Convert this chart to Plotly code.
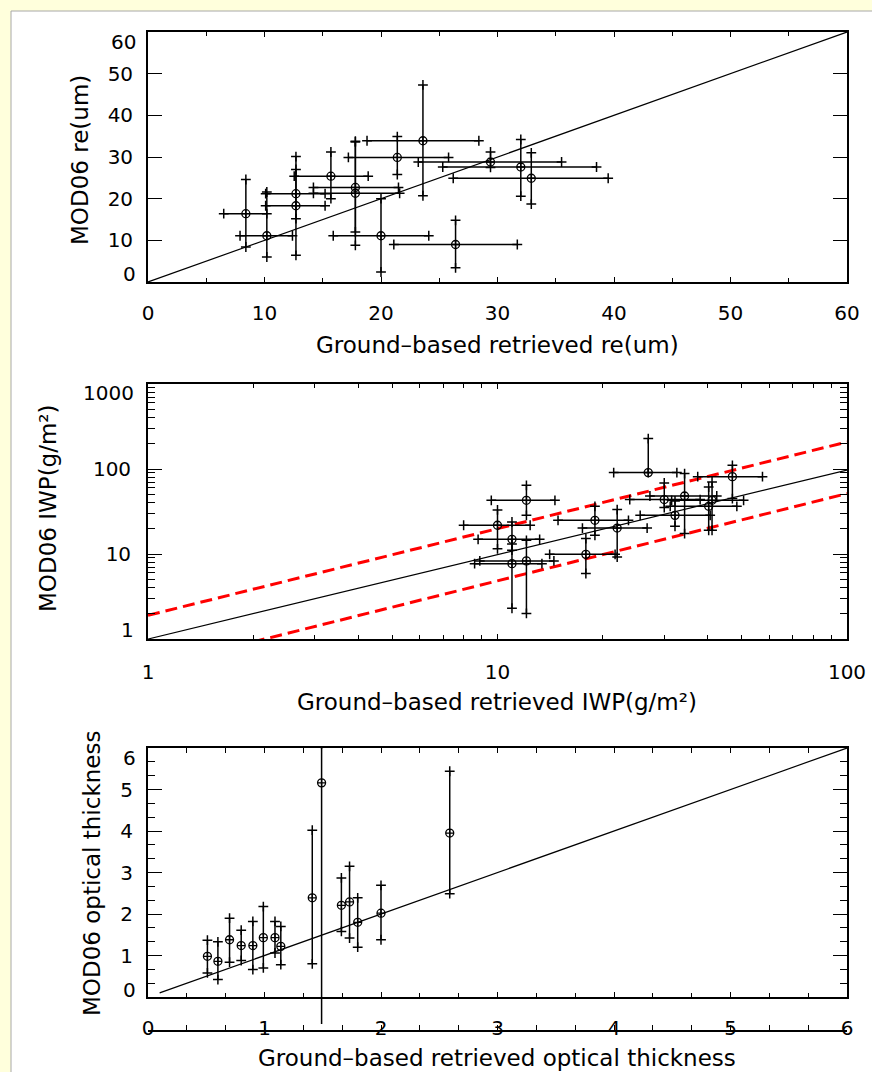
import plotly.graph_objects as go

W, H = 872, 1072
FONT = "DejaVu Sans"

# ---------------- effective radius (um) ----------------
re_gb = [8.4, 10.2, 12.7, 12.7, 15.7, 17.8, 17.8, 23.6, 21.4, 20.0, 26.4, 29.4, 32.0, 32.9]
re_gb_lo = [6.5, 7.9, 10.1, 10.1, 12.55, 14.2, 14.2, 18.8, 17.2, 15.9, 21.1, 23.2, 25.3, 26.2]
re_gb_hi = [10.2, 12.4, 15.2, 15.2, 18.9, 21.5, 21.6, 28.4, 25.8, 24.1, 31.7, 35.5, 38.5, 39.5]
re_mod = [16.4, 11.1, 21.2, 18.3, 25.4, 22.7, 21.3, 33.9, 29.9, 11.1, 9.0, 28.8, 27.6, 24.9]
re_mod_lo = [8.4, 6.0, 15.2, 6.4, 20.0, 12.0, 8.8, 20.7, 25.8, 2.4, 3.4, 27.5, 20.6, 18.7]
re_mod_hi = [24.6, 21.6, 27.0, 30.1, 31.2, 33.6, 33.8, 47.3, 34.9, 20.0, 14.8, 31.2, 34.2, 31.0]
re_line = [0, 60]

# ---------------- ice water path (g/m^2) ----------------
iwp_gb = [10.0, 11.0, 11.0, 12.1, 12.1, 17.9, 19.0, 22.0, 27.0, 30.0, 34.3, 32.2, 40.2, 41.1, 47.0]
iwp_gb_lo = [8.0, 8.8, 8.6, 9.6, 8.9, 14.1, 14.9, 17.5, 21.5, 23.9, 27.3, 25.6, 31.2, 31.5, 37.4]
iwp_gb_hi = [12.4, 13.2, 13.4, 14.6, 14.5, 21.7, 23.7, 26.8, 32.6, 38.0, 42.4, 40.6, 48.4, 50.6, 57.3]
iwp_mod = [21.8, 14.9, 7.7, 42.8, 8.3, 9.9, 24.9, 20.2, 90.7, 43.7, 48.1, 28.5, 36.4, 42.8, 81.3]
iwp_mod_lo = [11.5, 11.1, 2.3, 28.5, 2.0, 5.9, 16.6, 9.2, 90.7, 35.2, 17.4, 21.2, 19.0, 19.0, 44.9]
iwp_mod_hi = [33.0, 23.8, 13.1, 64.3, 14.5, 15.2, 36.4, 33.3, 228.0, 68.4, 88.3, 42.0, 61.4, 70.3, 110.6]
iwp_line_x = [1, 100]
iwp_line_y = [1, 97]
iwp_upper_y = [1.9, 208]
iwp_lower_y = [0.454, 51.4]

# ---------------- optical thickness ----------------
tau_gb = [0.51, 0.60, 0.70, 0.80, 0.90, 0.99, 1.09, 1.14, 1.41, 1.49, 1.66, 1.73, 1.80, 2.00, 2.59]
tau_mod = [0.98, 0.86, 1.38, 1.24, 1.24, 1.43, 1.43, 1.22, 2.39, 5.16, 2.21, 2.29, 1.80, 2.02, 3.95]
tau_mod_lo = [0.58, 0.42, 0.84, 0.88, 0.66, 0.70, 1.06, 0.78, 0.80, -0.65, 1.58, 1.42, 1.20, 1.38, 2.49]
tau_mod_hi = [1.37, 1.33, 1.90, 1.61, 1.82, 2.18, 1.82, 1.70, 4.02, 6.10, 2.87, 3.15, 2.39, 2.69, 5.44]
tau_line = [0.1, 6]

# tick labels
re_ticks = [0, 10, 20, 30, 40, 50, 60]
iwp_x_ticks = [1, 10, 100]
iwp_y_ticks = [1, 10, 100, 1000]
tau_ticks = [0, 1, 2, 3, 4, 5, 6]


def xdom(left, right):
    return [left / W, right / W]


def ydom(top, bottom):
    return [1 - bottom / H, 1 - top / H]


def plus(v, hi):
    return [h - a for a, h in zip(v, hi)]


def minus(v, lo):
    return [a - l for a, l in zip(v, lo)]


def end_caps(x, y, ylo, yhi, xlo=None, xhi=None):
    cx, cy = [], []
    for i in range(len(x)):
        if xlo is not None:
            cx += [xlo[i], xhi[i]]
            cy += [y[i], y[i]]
        cx += [x[i], x[i]]
        cy += [ylo[i], yhi[i]]
    return cx, cy


CIRCLE = dict(symbol="circle-cross-open", size=8, color="black",
              line=dict(width=1.3, color="black"))
CAP = dict(symbol="cross-thin", size=7, color="black",
           line=dict(width=1.5, color="black"))


def err(arr_p, arr_m):
    return dict(type="data", symmetric=False, array=arr_p, arrayminus=arr_m,
                width=0, thickness=1.5, color="black")


fig = go.Figure()

# --- panel 1 ---
fig.add_trace(go.Scatter(x=re_line, y=re_line, mode="lines", xaxis="x", yaxis="y",
                         line=dict(color="black", width=1.2), showlegend=False))
fig.add_trace(go.Scatter(x=re_gb, y=re_mod, mode="markers", xaxis="x", yaxis="y",
                         marker=CIRCLE, showlegend=False,
                         error_x=err(plus(re_gb, re_gb_hi), minus(re_gb, re_gb_lo)),
                         error_y=err(plus(re_mod, re_mod_hi), minus(re_mod, re_mod_lo))))
cx, cy = end_caps(re_gb, re_mod, re_mod_lo, re_mod_hi, re_gb_lo, re_gb_hi)
fig.add_trace(go.Scatter(x=cx, y=cy, mode="markers", xaxis="x", yaxis="y",
                         marker=CAP, showlegend=False))

# --- panel 2 ---
fig.add_trace(go.Scatter(x=iwp_line_x, y=iwp_line_y, mode="lines", xaxis="x2", yaxis="y2",
                         line=dict(color="black", width=1.2), showlegend=False))
for yy in (iwp_upper_y, iwp_lower_y):
    fig.add_trace(go.Scatter(x=iwp_line_x, y=yy, mode="lines", xaxis="x2", yaxis="y2",
                             line=dict(color="#FF0000", width=3, dash="12px,6px"),
                             showlegend=False))
fig.add_trace(go.Scatter(x=iwp_gb, y=iwp_mod, mode="markers", xaxis="x2", yaxis="y2",
                         marker=CIRCLE, showlegend=False,
                         error_x=err(plus(iwp_gb, iwp_gb_hi), minus(iwp_gb, iwp_gb_lo)),
                         error_y=err(plus(iwp_mod, iwp_mod_hi), minus(iwp_mod, iwp_mod_lo))))
cx, cy = end_caps(iwp_gb, iwp_mod, iwp_mod_lo, iwp_mod_hi, iwp_gb_lo, iwp_gb_hi)
fig.add_trace(go.Scatter(x=cx, y=cy, mode="markers", xaxis="x2", yaxis="y2",
                         marker=CAP, showlegend=False))

# --- panel 3 ---
fig.add_trace(go.Scatter(x=tau_line, y=tau_line, mode="lines", xaxis="x3", yaxis="y3",
                         line=dict(color="black", width=1.2), showlegend=False))
# vertical bars live on a taller twin y-axis so a bar may run past the lower frame
sx, sy = [], []
for xi, lo, hi in zip(tau_gb, tau_mod_lo, tau_mod_hi):
    sx += [xi, xi, None]
    sy += [lo, hi, None]
fig.add_trace(go.Scatter(x=sx, y=sy, mode="lines", xaxis="x3", yaxis="y4",
                         line=dict(color="black", width=1.5), showlegend=False))
fig.add_trace(go.Scatter(x=tau_gb, y=tau_mod, mode="markers", xaxis="x3", yaxis="y3",
                         marker=CIRCLE, showlegend=False))
cx, cy = end_caps(tau_gb, tau_mod, tau_mod_lo, tau_mod_hi)
fig.add_trace(go.Scatter(x=cx, y=cy, mode="markers", xaxis="x3", yaxis="y3",
                         marker=CAP, showlegend=False))

# ---------------- axes ----------------
X_L, X_R = 148, 847
P1 = (32, 282)
P2 = (384, 639)
P3 = (748, 997)
P3_EXT = 1030
Y_STANDOFF = 9
TICK_FONT = dict(family=FONT, size=20, color="black")


def frame_axis(**kw):
    base = dict(showline=True, linecolor="black", linewidth=1.8, mirror="allticks",
                ticks="inside", tickcolor="black", tickwidth=1.2, showgrid=False,
                zeroline=False, automargin=False, tickfont=TICK_FONT)
    base.update(kw)
    return base


def minor(vals, length):
    return dict(tickmode="array", tickvals=vals, ticks="inside", ticklen=length,
                tickcolor="black", tickwidth=1.2, showgrid=False)


def inner_text(vals):
    # end labels of a y axis are drawn separately, nudged inside the frame
    return [""] + [str(v) for v in vals[1:-1]] + [""]


log_minor_x = [m * 10 ** d for d in range(2) for m in range(2, 10)]
log_minor_y = [m * 10 ** d for d in range(3) for m in range(2, 10)]
third_minor = [k / 3 for k in range(19) if k % 3]

y3_range = [0, 6]
y3_px = P3[1] - P3[0]
y4_low = y3_range[1] - (y3_range[1] - y3_range[0]) * (P3_EXT - P3[0]) / y3_px

fig.update_layout(
    width=W, height=H,
    margin=dict(l=0, r=0, t=0, b=0),
    paper_bgcolor="#FFFFDC",
    plot_bgcolor="rgba(0,0,0,0)",
    showlegend=False,
    xaxis=frame_axis(domain=xdom(X_L, X_R), range=[0, 60], anchor="y",
                     tickvals=re_ticks, ticklen=5,
                     ticklabelstandoff=12, minor=minor(list(range(5, 60, 10)), 4)),
    yaxis=frame_axis(domain=ydom(*P1), range=[0, 60], anchor="x",
                     tickvals=re_ticks, ticktext=inner_text(re_ticks), ticklen=14,
                     ticklabelstandoff=Y_STANDOFF),
    xaxis2=frame_axis(domain=xdom(X_L, X_R), type="log", range=[0, 2], anchor="y2",
                      tickvals=iwp_x_ticks, ticktext=[str(v) for v in iwp_x_ticks],
                      ticklen=5, ticklabelstandoff=14, minor=minor(log_minor_x, 4)),
    yaxis2=frame_axis(domain=ydom(*P2), type="log", range=[0, 3], anchor="x2",
                      tickvals=iwp_y_ticks, ticktext=inner_text(iwp_y_ticks),
                      ticklen=14, ticklabelstandoff=Y_STANDOFF + 2,
                      minor=minor(log_minor_y, 7)),
    xaxis3=frame_axis(domain=xdom(X_L, X_R), range=[0, 6], anchor="y3",
                      tickvals=tau_ticks, ticklen=5, ticklabelstandoff=12,
                      minor=minor(third_minor, 4)),
    yaxis3=frame_axis(domain=ydom(*P3), range=y3_range, anchor="x3",
                      tickvals=tau_ticks, ticktext=inner_text(tau_ticks), ticklen=14,
                      ticklabelstandoff=Y_STANDOFF, minor=minor(third_minor, 7)),
    yaxis4=dict(domain=ydom(P3[0], P3_EXT), range=[y4_low, y3_range[1]], anchor="x3",
                visible=False, showgrid=False, zeroline=False),
)

# end labels of the y axes, kept just inside the frame
end_labels = [
    ("y", re_ticks[0], re_ticks[0], 8),
    ("y", re_ticks[-1], re_ticks[-1], -10),
    ("y2", iwp_y_ticks[0], 0, 9),
    ("y2", iwp_y_ticks[-1], 3, -9),
    ("y3", tau_ticks[0], tau_ticks[0], 7),
    ("y3", tau_ticks[-1], tau_ticks[-1], -10),
]
for yref, label, ypos, shift in end_labels:
    standoff = Y_STANDOFF + (2 if yref == "y2" else 0)
    fig.add_annotation(text=str(label), xref="paper", yref=yref,
                       x=(X_L - standoff - 1) / W, y=ypos, yshift=shift,
                       xanchor="right", yanchor="middle", showarrow=False,
                       font=TICK_FONT)

# white page panel with a thin grey edge
fig.add_shape(type="rect", xref="paper", yref="paper", x0=11 / W, x1=1.02,
              y0=-0.02, y1=1 - 11 / H, fillcolor="white",
              line=dict(color="#A8A8A8", width=1), layer="below")

TITLE_FONT = dict(family=FONT, size=23, color="black")
titles = [
    ("Ground–based retrieved re(um)", 497, 345, 0),
    ("Ground–based retrieved IWP(g/m²)", 497, 702, 0),
    ("Ground–based retrieved optical thickness", 497, 1058, 0),
    ("MOD06 re(um)", 80, 160, -90),
    ("MOD06 IWP(g/m²)", 48, 508, -90),
    ("MOD06 optical thickness", 92, 874, -90),
]
for text, px, py, ang in titles:
    fig.add_annotation(text=text, xref="paper", yref="paper", x=px / W, y=1 - py / H,
                       xanchor="center", yanchor="middle", showarrow=False,
                       textangle=ang, font=TITLE_FONT)

fig.write_html("out.html")
